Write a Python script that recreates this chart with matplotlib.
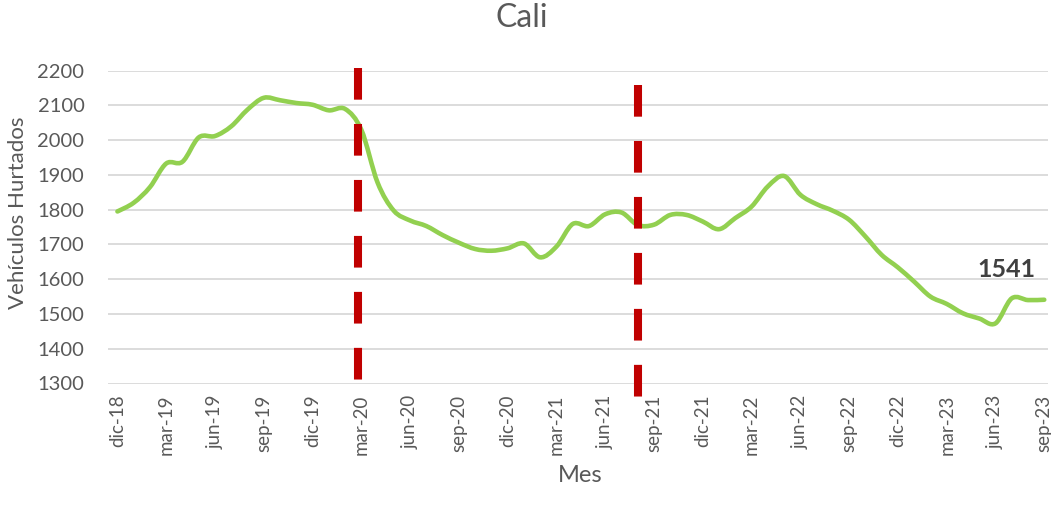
import matplotlib.pyplot as plt
from matplotlib.path import Path
from matplotlib.patches import PathPatch

plt.rcParams['font.family'] = ['Lato', 'DejaVu Sans']
plt.rcParams['lines.scale_dashes'] = False

# Vehículos hurtados en Cali, mensual dic-18 .. sep-23
valores = [1795, 1820, 1865, 1933, 1938, 2008, 2012, 2040, 2088, 2122,
           2115, 2107, 2102, 2086, 2090, 2030, 1878, 1797, 1769, 1753,
           1727, 1705, 1687, 1682, 1689, 1703, 1663, 1694, 1759, 1753,
           1787, 1792, 1756, 1757, 1785, 1785, 1766, 1744, 1776, 1809,
           1867, 1897, 1843, 1816, 1797, 1771, 1723, 1670, 1634, 1593,
           1550, 1529, 1502, 1487, 1473, 1545, 1540, 1541]
etiquetas = ['dic-18', 'mar-19', 'jun-19', 'sep-19', 'dic-19', 'mar-20',
             'jun-20', 'sep-20', 'dic-20', 'mar-21', 'jun-21', 'sep-21',
             'dic-21', 'mar-22', 'jun-22', 'sep-22', 'dic-22', 'mar-23',
             'jun-23', 'sep-23']
eventos = [14.77, 32]          # lineas rojas (mes)
eventos_y = [(2207, 1310), (2158, 1262)]

meses = list(range(len(valores)))

fig = plt.figure(figsize=(10.51, 5.05), dpi=100)
ax = fig.add_axes([108 / 1051, 1 - 383.5 / 505, 940 / 1051, 312.8 / 505])

# linea suavizada (estilo Excel): curvas de Bezier entre los puntos
pts = list(zip(meses, valores))
verts = [pts[0]]
codes = [Path.MOVETO]
n = len(pts)
for i in range(n - 1):
    p0 = pts[max(i - 1, 0)]
    p1 = pts[i]
    p2 = pts[i + 1]
    p3 = pts[min(i + 2, n - 1)]
    c1 = (p1[0] + (p2[0] - p0[0]) / 6, p1[1] + (p2[1] - p0[1]) / 6)
    c2 = (p2[0] - (p3[0] - p1[0]) / 6, p2[1] - (p3[1] - p1[1]) / 6)
    verts += [c1, c2, p2]
    codes += [Path.CURVE4] * 3
ax.add_patch(PathPatch(Path(verts, codes), fill=False, edgecolor='#92D050',
                       lw=3.3, capstyle='round', joinstyle='round', zorder=3))

for x, (y0, y1) in zip(eventos, eventos_y):
    ax.plot([x, x], [y0, y1], color='#C00000', lw=5.8,
            dashes=(22.8, 17.5), dash_capstyle='butt', clip_on=False, zorder=4)

ax.annotate(str(valores[-1]), (meses[-1], valores[-1]), xytext=(-27, 22),
            textcoords='offset points', ha='center', va='center',
            fontsize=18, fontweight='bold', color='#404040')

ax.set_ylim(1300, 2200)
ax.set_yticks(range(1300, 2201, 100))
ax.set_xlim(-0.58, 57.23)
ax.set_xticks(meses[::3])
ax.set_xticklabels(etiquetas, rotation=90)

ax.grid(axis='y', color='#D9D9D9', lw=1.3)
ax.set_axisbelow(True)
for s in ax.spines.values():
    s.set_visible(False)
ax.tick_params(axis='y', length=0, pad=17, labelsize=14.5, labelcolor='#595959')
ax.tick_params(axis='x', length=0, pad=8, labelsize=13.5, labelcolor='#595959')

fig.text(522 / 1051, 1 - 18 / 505, 'Cali', ha='center', va='center',
         fontsize=23, color='#595959')
fig.text(18 / 1051, 1 - 213 / 505, 'Vehículos Hurtados', rotation=90,
         ha='center', va='center', fontsize=16, color='#595959')
fig.text(580 / 1051, 1 - 475 / 505, 'Mes', ha='center', va='center',
         fontsize=17, color='#595959')

fig.savefig('out.png', dpi=100)
